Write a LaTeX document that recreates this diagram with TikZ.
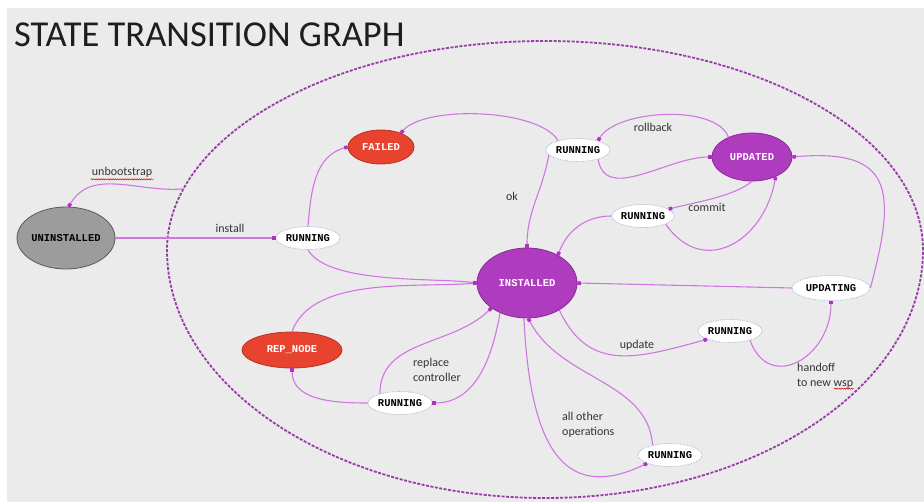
\documentclass[tikz,border=0pt]{standalone}
\usepackage{fontspec}
\setmainfont{Carlito}
\newfontfamily\statefont{Liberation Mono}
\usetikzlibrary{arrows.meta, shapes.geometric, decorations.pathmorphing}

\begin{document}
\begin{tikzpicture}[x=1pt, y=1pt,
    edge/.style={draw=edgeColour, line width=1.1pt, -{Square[length=3.5pt,width=3.5pt,color=tipColour]}},
    state/.style={ellipse, inner sep=0pt, line width=0.8pt, font=\statefont\bfseries\fontsize{10.5}{12}\selectfont},
    installedstate/.style={state, fill=purpleFill, draw=purpleBorder, text=white},
    failstate/.style={state, fill=redFill, draw=redBorder, text=white},
    runstate/.style={state, fill=white, draw=runBorder, densely dotted, minimum width=64pt, minimum height=23pt},
    lbl/.style={font=\fontsize{12}{15}\selectfont, text=labelText, align=left, inner sep=1pt},
    boundary/.style={draw=boundColour, line width=1.8pt, dash pattern=on 3pt off 1.5pt},
    squiggle/.style={draw=red!85!black, line width=0.5pt, decorate, decoration={snake, amplitude=0.6pt, segment length=2.4pt}}
]
    % Define boundary size
    \def\boundX{378}
    \def\boundTop{209}
    \def\boundBottom{248}

    \definecolor{bgGrey}{HTML}{EBEBEB}
    \definecolor{titleText}{HTML}{1E1E1E}
    \definecolor{labelText}{HTML}{333333}
    \definecolor{edgeColour}{HTML}{D076E0}
    \definecolor{tipColour}{HTML}{B22FC4}
    \definecolor{boundColour}{HTML}{9A3CA8}
    \definecolor{purpleFill}{HTML}{AF3CBF}
    \definecolor{purpleBorder}{HTML}{8A2A98}
    \definecolor{redFill}{HTML}{E8432F}
    \definecolor{redBorder}{HTML}{B8321F}
    \definecolor{greyFill}{HTML}{9C9C9C}
    \definecolor{greyBorder}{HTML}{5A5A5A}
    \definecolor{runBorder}{HTML}{A9B6CF}

    % Draw background
    \useasboundingbox (0,0) rectangle (924,-502);
    \fill[white] (0,0) rectangle (924,-502);
    \fill[bgGrey] (7,-8) rectangle (924,-502);

    % Title
    \node[anchor=base west, font=\fontsize{36.5}{40}\selectfont, text=titleText, inner sep=0pt] (title) at (14,-47) {STATE TRANSITION GRAPH};

    % Draw the dashed boundary
    \coordinate (bcen) at (545,-250);
    \draw[boundary] (bcen) ++(0:\boundX\space and \boundTop)
        arc[start angle=0, end angle=180, x radius=\boundX, y radius=\boundTop]
        arc[start angle=180, end angle=360, x radius=\boundX, y radius=\boundBottom];
    \path (bcen) ++(163:\boundX\space and \boundTop) coordinate (ubstart);

    % States
    \node[state, fill=greyFill, draw=greyBorder, minimum width=98pt, minimum height=62pt] (uninst) at (66,-238) {UNINSTALLED};
    \node[failstate, minimum width=66pt, minimum height=34pt] (failed) at (381,-147) {FAILED};
    \node[installedstate, minimum width=100pt, minimum height=70pt] (inst) at (527,-283) {INSTALLED};
    \node[installedstate, minimum width=80pt, minimum height=48pt] (updated) at (752,-157) {UPDATED};
    \node[failstate, minimum width=100pt, minimum height=36pt] (repnode) at (292,-350) {REP\_NODE};
    \node[runstate] (runinstall) at (308,-238) {RUNNING};
    \node[runstate] (runok) at (578,-150) {RUNNING};
    \node[runstate, minimum width=58pt] (runcommit) at (643,-216) {RUNNING};
    \node[runstate] (runupdate) at (730,-331) {RUNNING};
    \node[runstate] (runreplace) at (400,-403) {RUNNING};
    \node[runstate] (runother) at (670,-455) {RUNNING};
    \node[runstate, minimum width=78pt, minimum height=25pt] (updating) at (831,-288) {UPDATING};

    % Labels
    \node[lbl] (lubs) at (122,-172) {unbootstrap};
    \node[lbl] (linstall) at (230,-228) {install};
    \node[lbl] (lok) at (512,-196) {ok};
    \node[lbl] (lrollback) at (653,-127) {rollback};
    \node[lbl] (lcommit) at (707,-207) {commit};
    \node[lbl] (lupdate) at (637,-345) {update};
    \node[lbl, anchor=north west] (lhandoff) at (796,-362) {handoff\\to new wsp};
    \node[lbl, anchor=north west] (lreplace) at (412,-357) {replace\\controller};
    \node[lbl, anchor=north west] (lother) at (561,-411) {all other\\operations};
    \draw[squiggle] ([yshift=-1pt]lubs.south west) -- ([yshift=-1pt]lubs.south east);
    \draw[squiggle] ([xshift=38pt,yshift=1pt]lhandoff.south west) -- ++(20,0);

    % Transitions
    \draw[edge] (ubstart) to[out=185, in=60] (uninst.85);
    \draw[edge] (uninst.east) -- (runinstall.west);
    \draw[edge] (runinstall.north) to[out=85, in=195] (failed.west);
    \draw[edge] (runinstall.south) to[out=-60, in=172, looseness=0.6] (inst.west);
    \draw[edge] (repnode.north) to[out=70, in=185, looseness=0.8] (inst.west);
    \draw[edge] (runreplace.west) to[out=180, in=-90] (repnode.south);
    \draw[edge] (runreplace.155) to[out=90, in=225] (inst.215);
    \draw[edge] (inst.228) to[out=-100, in=0] (runreplace.east);
    \draw[edge] (runother.150) .. controls +(-5,65) and +(32,-62) .. (inst.-88);
    \draw[edge] (inst.-95) .. controls +(6,-122) and +(-87,-42) .. (runother.200);
    \draw[edge] (inst.-40) to[out=-65, in=195, looseness=1.2] (runupdate.200);
    \draw[edge] (runupdate.-25) to[out=-70, in=-90, looseness=1.6] (updating.-90);
    \draw[edge] (updating.west) -- (inst.east);
    \draw[edge] (updating.east) to[out=75, in=5, looseness=1.7] (updated.east);
    \draw[edge] (updated.-90) to[out=-140, in=15, looseness=0.7] (runcommit.15);
    \draw[edge] (runcommit.-20) to[out=-55, in=-100, looseness=1.4] (updated.-40);
    \draw[edge] (runcommit.west) to[out=180, in=70] (inst.42);
    \draw[edge] (updated.140) to[out=110, in=60, looseness=0.7] (runok.25);
    \draw[edge] (runok.-25) to[out=-80, in=180] (updated.west);
    \draw[edge] (runok.155) to[out=120, in=50, looseness=0.6] (failed.35);
    \draw[edge] (runok.190) to[out=-100, in=90] (inst.north);

\end{tikzpicture}
\end{document}
